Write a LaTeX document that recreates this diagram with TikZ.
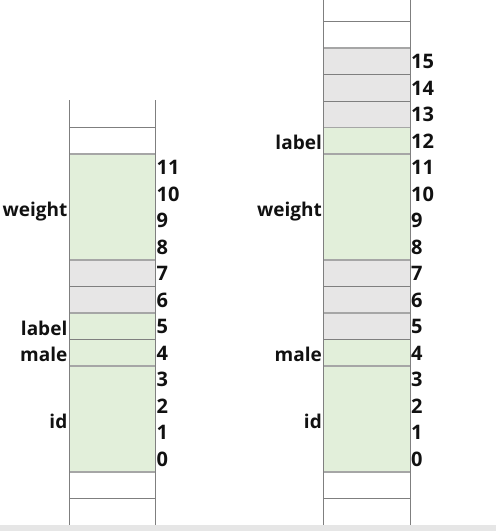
\documentclass[tikz,border=0pt]{standalone}
\usepackage{fontspec}
\setmainfont{Open Sans}
\definecolor{cellgreen}{HTML}{E2EFDA}
\definecolor{cellgray}{HTML}{E7E6E6}
\definecolor{bandgray}{HTML}{E6E6E6}
\definecolor{darkline}{HTML}{7F7F7F}
\definecolor{lightline}{HTML}{A6A6A6}
\definecolor{inkblack}{HTML}{111111}
\tikzset{
  vline/.style={draw=darkline, line width=1pt},
  thinrule/.style={draw=darkline, line width=0.9pt},
  thickrule/.style={draw=lightline, line width=1.6pt},
  numtext/.style={anchor=base west, inner sep=0pt, text=inkblack, font=\fontsize{20}{24}\selectfont\bfseries},
  fieldtext/.style={anchor=base east, inner sep=0pt, text=inkblack, font=\fontsize{19}{24}\selectfont\bfseries},
}
% row k bottom = 472-26.5k
\newcommand{\rb}[1]{472-26.5*(#1)}
\begin{document}
\begin{tikzpicture}[x=1pt,y=-1pt]
\useasboundingbox (0,0) rectangle (496,531);
\fill[bandgray] (0,524.5) rectangle (496,531);

% ---------- left column ----------
\fill[cellgreen] (69,{\rb{12}}) rectangle (155.5,{\rb{8}});
\fill[cellgray]  (69,{\rb{8}}) rectangle (155.5,{\rb{6}});
\fill[cellgreen] (69,{\rb{6}}) rectangle (155.5,{\rb{0}});
\foreach \k in {13,-1} \draw[thinrule] (69,{\rb{\k}}) -- (155.5,{\rb{\k}});
\foreach \k in {7,5} \draw[thinrule] (69,{\rb{\k}}) -- (155.5,{\rb{\k}});
\foreach \k in {12,8,6,4,0} \draw[thickrule] (69,{\rb{\k}}) -- (155.5,{\rb{\k}});
\draw[vline] (69,100) -- (69,524.5);
\draw[vline] (155.5,100) -- (155.5,524.5);
\foreach \k in {0,...,11}
  \node[numtext] (ln\k) at (156.5,{\rb{\k}-13.25+7.5}) {\k};
\node[fieldtext] (lweight) at (67.5,{\rb{10}+9}) {weight};
\node[fieldtext] (llabel) at (67.5,{\rb{5}-13.25+9}) {label};
\node[fieldtext] (lmale) at (67.5,{\rb{4}-13.25+9}) {male};
\node[fieldtext] (lid) at (67.5,{\rb{2}+9}) {id};

% ---------- right column ----------
\fill[cellgray]  (323.5,{\rb{16}}) rectangle (410,{\rb{13}});
\fill[cellgreen] (323.5,{\rb{13}}) rectangle (410,{\rb{8}});
\fill[cellgray]  (323.5,{\rb{8}}) rectangle (410,{\rb{5}});
\fill[cellgreen] (323.5,{\rb{5}}) rectangle (410,{\rb{0}});
\foreach \k in {17,-1,7,5,15,14} \draw[thinrule] (323.5,{\rb{\k}}) -- (410,{\rb{\k}});
\foreach \k in {16,13,12,8,6,4,0} \draw[thickrule] (323.5,{\rb{\k}}) -- (410,{\rb{\k}});
\draw[vline] (323.5,0) -- (323.5,524.5);
\draw[vline] (410,0) -- (410,524.5);
\foreach \k in {0,...,15}
  \node[numtext] (rn\k) at (411,{\rb{\k}-13.25+7.5}) {\k};
\node[fieldtext] (rlabel) at (322,{\rb{12}-13.25+9}) {label};
\node[fieldtext] (rweight) at (322,{\rb{10}+9}) {weight};
\node[fieldtext] (rmale) at (322,{\rb{4}-13.25+9}) {male};
\node[fieldtext] (rid) at (322,{\rb{2}+9}) {id};
\end{tikzpicture}
\end{document}
